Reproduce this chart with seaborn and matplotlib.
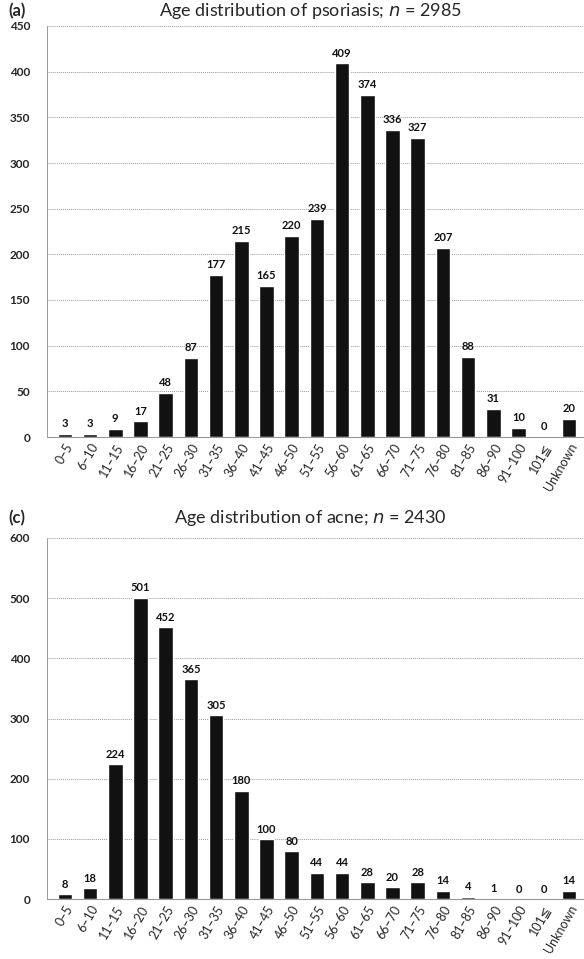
import numpy as np
import pandas as pd
import seaborn as sns
import matplotlib.pyplot as plt

# Altersgruppen (gemeinsam für beide Diagramme)
age_groups = ["0–5", "6–10", "11–15", "16–20", "21–25", "26–30", "31–35", "36–40",
              "41–45", "46–50", "51–55", "56–60", "61–65", "66–70", "71–75", "76–80",
              "81–85", "86–90", "91–100", "101≦", "Unknown"]

# Psoriasis-Werte
psoriasis_counts = [3, 3, 9, 17, 48, 87, 177, 215, 165, 220, 239, 409, 374, 336,
                    327, 207, 88, 31, 10, 0, 20]

# Akne-Werte
acne_counts = [8, 18, 224, 501, 452, 365, 305, 180, 100, 80, 44, 44, 28, 20,
               28, 14, 4, 1, 0, 0, 14]

sns.set_style("white")
plt.rcParams["font.family"] = ["Lato", "DejaVu Sans"]

H = 959
fig = plt.figure(figsize=(5.84, 9.59), dpi=100)
# Achsen: oben 26..437 px, unten 536..899 px (von oben gemessen)
ax1 = fig.add_axes([0.08, 1 - 437 / H, 0.918, (437 - 26) / H])
ax2 = fig.add_axes([0.08, 1 - 899 / H, 0.918, (899 - 538) / H])


def draw_panel(ax, counts, ymax, step):
    df = pd.DataFrame({"age": age_groups, "count": counts})
    # Gitterlinien zuerst, Balken darüber
    for y in np.arange(step, ymax + 1, step):
        ax.axhline(y, color="#999999", linestyle=(0, (1, 1)), linewidth=0.7, zorder=0)
    sns.barplot(data=df, x="age", y="count", color="#111111", width=0.58,
                saturation=1, ax=ax, zorder=2)
    for i, v in enumerate(counts):
        ax.text(i, v + ymax * 0.012, str(v), ha="center", va="bottom",
                fontsize=8, fontweight="bold", color="#111111")
    ax.set_ylim(0, ymax)
    ax.set_xlim(-0.72, 20.55)
    ax.set_yticks(np.arange(0, ymax + 1, step))
    ax.set_xlabel("")
    ax.set_ylabel("")
    ax.tick_params(axis="y", labelsize=8.5, length=0, pad=12)
    ax.tick_params(axis="x", labelsize=9, length=0, pad=3)
    for lbl in ax.get_yticklabels():
        lbl.set_fontweight("bold")
    plt.setp(ax.get_xticklabels(), rotation=60, ha="right", rotation_mode="anchor")
    for s in ["top", "right"]:
        ax.spines[s].set_visible(False)
    ax.spines["left"].set_color("#999999")
    ax.spines["left"].set_linestyle((0, (1, 1)))
    ax.spines["left"].set_linewidth(0.7)
    ax.spines["bottom"].set_color("#999999")
    ax.spines["bottom"].set_linewidth(0.8)


draw_panel(ax1, psoriasis_counts, 450, 50)
draw_panel(ax2, acne_counts, 600, 100)

# Titel und Panel-Buchstaben (Position in Pixeln von oben)
fig.text(310 / 584, 1 - 11 / H, r"Age distribution of psoriasis; $\it{n}$ = 2985",
         ha="center", va="center", fontsize=13)
fig.text(8 / 584, 1 - 11 / H, "(a)", ha="left", va="center", fontsize=12,
         fontweight="bold")
fig.text(310 / 584, 1 - 518 / H, r"Age distribution of acne; $\it{n}$ = 2430",
         ha="center", va="center", fontsize=13)
fig.text(8 / 584, 1 - 518 / H, "(c)", ha="left", va="center", fontsize=12,
         fontweight="bold")

plt.savefig("out.png", dpi=100)
